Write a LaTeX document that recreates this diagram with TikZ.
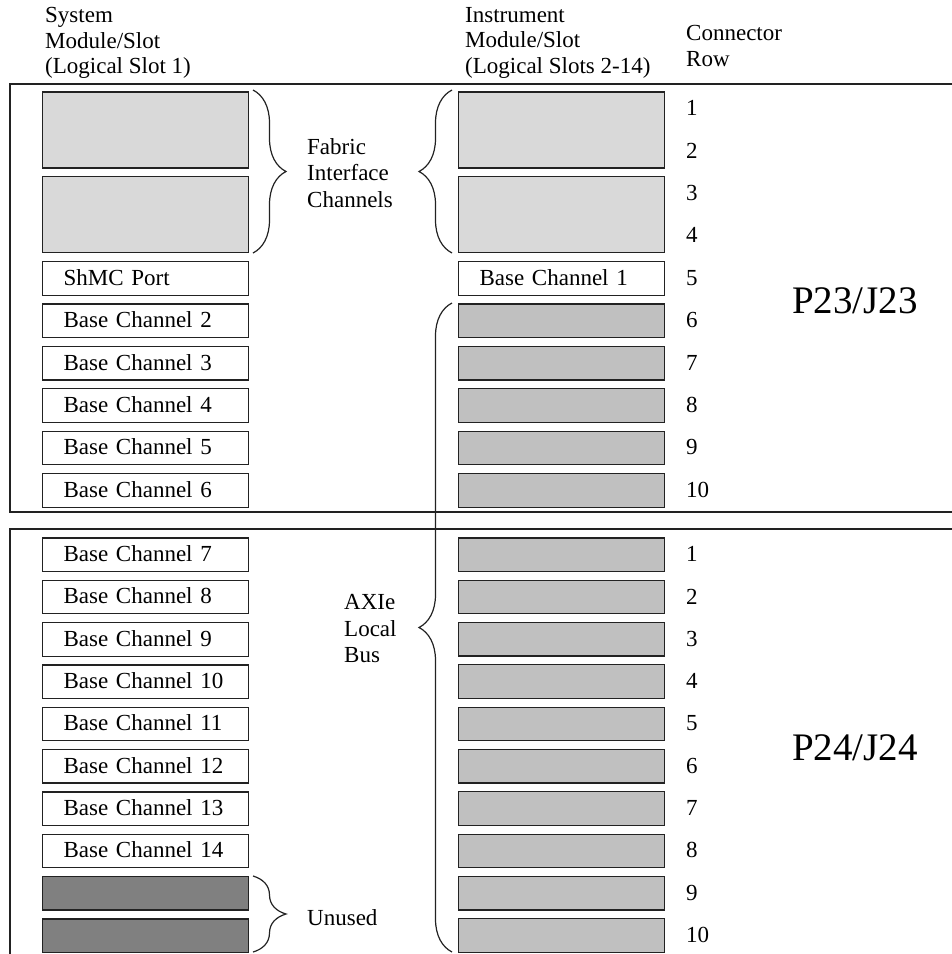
\documentclass[tikz,border=0pt]{standalone}
\usepackage{fontspec}
\setmainfont{Liberation Serif}
\usetikzlibrary{decorations.pathreplacing}
\definecolor{fabgray}{HTML}{D9D9D9}
\definecolor{busgray}{HTML}{C0C0C0}
\definecolor{unusedgray}{HTML}{808080}
\definecolor{linegray}{HTML}{222222}
\begin{document}
\begin{tikzpicture}[x=1pt,y=-1pt,
  every node/.style={font=\fontsize{23}{25.7}\selectfont, text=black},
  slotbox/.style={draw=linegray, line width=1.2pt, anchor=north west,
    minimum width=206pt, minimum height=33.5pt, inner sep=0pt},
  labelbox/.style={slotbox, text width=164pt, inner xsep=21pt, align=left,
    text height=15pt, text depth=1pt},
  fabbox/.style={slotbox, fill=fabgray, minimum height=75.9pt},
  busbox/.style={slotbox, fill=busgray},
  unusedbox/.style={slotbox, fill=unusedgray},
  rownum/.style={anchor=west, inner sep=0pt},
  plain/.style={anchor=north west, inner sep=0pt, align=left},
  frameline/.style={draw=linegray, line width=1.3pt},
  bracestyle/.style={draw=linegray, line width=1.2pt, decorate,
    decoration={brace, amplitude=33pt}},
  connlabel/.style={anchor=base west, inner sep=0pt, font=\fontsize{39}{44}\selectfont}
]
\useasboundingbox (0,0) rectangle (952,954);
\clip (0,0) rectangle (952,954);

% frames
\draw[frameline] (960,84) -- (10,84) -- (10,512) -- (960,512);
\draw[frameline] (960,529) -- (10,529) -- (10,970);

% headers
\node[plain] (syshead) at (45,7) {System\\Module/Slot\\(Logical Slot 1)};
\node[plain] (inshead) at (465,7) {Instrument\\Module/Slot\\(Logical Slots 2-14)};
\node[plain, font=\fontsize{23}{26}\selectfont] (rowhead) at (686,25.4) {Connector\\Row};

% system slot, P23
\node[fabbox] (sysfabA) at (42,91.4) {};
\node[fabbox] (sysfabB) at (42,176.2) {};
\node[labelbox] (shmc) at (42,261.0) {ShMC Port};
\node[labelbox] (bc2) at (42,303.4) {Base Channel 2};
\node[labelbox] (bc3) at (42,345.8) {Base Channel 3};
\node[labelbox] (bc4) at (42,388.2) {Base Channel 4};
\node[labelbox] (bc5) at (42,430.6) {Base Channel 5};
\node[labelbox] (bc6) at (42,473.0) {Base Channel 6};

% system slot, P24
\node[labelbox] (bc7) at (42,537.3) {Base Channel 7};
\node[labelbox] (bc8) at (42,579.6) {Base Channel 8};
\node[labelbox] (bc9) at (42,622.0) {Base Channel 9};
\node[labelbox] (bc10) at (42,664.3) {Base Channel 10};
\node[labelbox] (bc11) at (42,706.6) {Base Channel 11};
\node[labelbox] (bc12) at (42,748.9) {Base Channel 12};
\node[labelbox] (bc13) at (42,791.3) {Base Channel 13};
\node[labelbox] (bc14) at (42,833.6) {Base Channel 14};
\node[unusedbox] (unA) at (42,875.9) {};
\node[unusedbox] (unB) at (42,918.3) {};

% instrument slot, P23
\node[fabbox] (insfabA) at (458,91.4) {};
\node[fabbox] (insfabB) at (458,176.2) {};
\node[labelbox] (bc1) at (458,261.0) {Base Channel 1};
\foreach \k [evaluate=\k as \yt using {91.4+(\k-1)*42.4}] in {6,...,10}
  \node[busbox] (ta\k) at (458,\yt) {};
% instrument slot, P24
\foreach \k [evaluate=\k as \yt using {537.3+(\k-1)*42.33}] in {1,...,10}
  \node[busbox] (tb\k) at (458,\yt) {};

% row numbers
\foreach \k [evaluate=\k as \yc using {91.4+(\k-1)*42.4+16.75}] in {1,...,10}
  \node[rownum] (na\k) at (686,\yc) {\k};
\foreach \k [evaluate=\k as \yc using {537.3+(\k-1)*42.33+16.75}] in {1,...,10}
  \node[rownum] (nb\k) at (686,\yc) {\k};

% connector labels
\node[connlabel] (p23) at (792,313) {P23/J23};
\node[connlabel] (p24) at (792,760) {P24/J24};

% braces
\coordinate (fl1) at (253,90);
\coordinate (fl2) at (253,253);
\coordinate (fr1) at (452,90);
\coordinate (fr2) at (452,253);
\coordinate (ax1) at (452,303);
\coordinate (ax2) at (452,952);
\coordinate (un1) at (253,876);
\coordinate (un2) at (253,952);
\draw[bracestyle] (fl1) -- (fl2);
\draw[bracestyle] (fr2) -- (fr1);
\draw[bracestyle] (ax2) -- (ax1);
\draw[bracestyle] (un1) -- (un2);

% brace labels
\node[plain, font=\fontsize{23}{26.5}\selectfont] (fabtxt) at (307,138.3) {Fabric\\Interface\\Channels};
\node[plain, font=\fontsize{23}{26.5}\selectfont] (axitxt) at (344,594.4) {AXIe\\Local\\Bus};
\node[anchor=base west, inner sep=0pt] (untxt) at (307,925) {Unused};
\end{tikzpicture}
\end{document}
